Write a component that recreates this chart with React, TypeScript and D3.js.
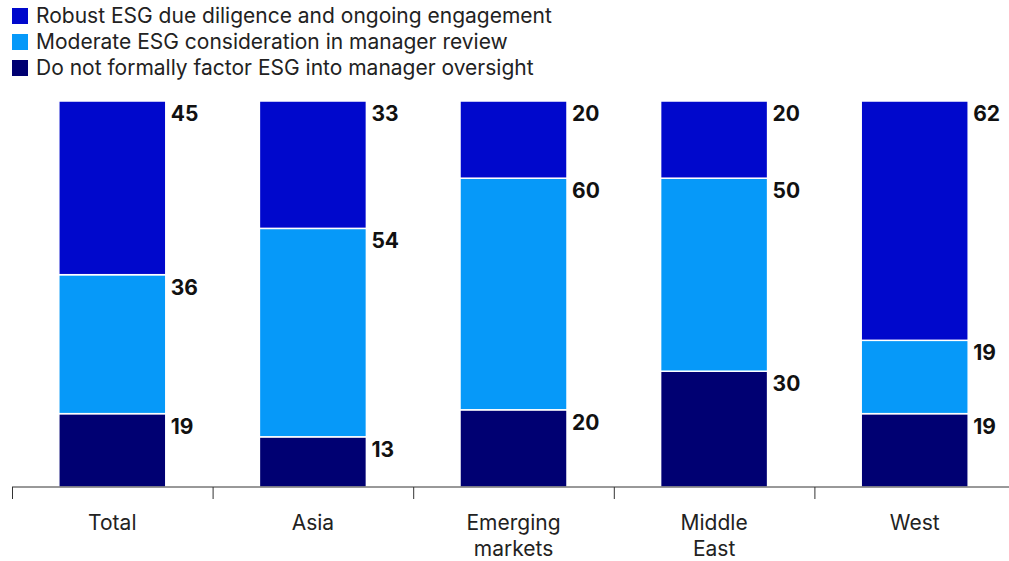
import React from "react";
import * as d3 from "d3";

const categories = ["Total", "Asia", "Emerging markets", "Middle East", "West"];
const categoryLines = [["Total"], ["Asia"], ["Emerging", "markets"], ["Middle", "East"], ["West"]];
const seriesNames = [
  "Robust ESG due diligence and ongoing engagement",
  "Moderate ESG consideration in manager review",
  "Do not formally factor ESG into manager oversight",
];
const robust = [45, 33, 20, 20, 62];
const moderate = [36, 54, 60, 50, 19];
const notFormal = [19, 13, 20, 30, 19];
const colors = ["#0008CC", "#0699F9", "#000072"];

const W = 1009;
const H = 561;
const M = { left: 12, right: -6, top: 101, bottom: 74 };

export default function App() {
  const x = d3.scaleBand<string>().domain(categories).range([M.left, W - M.right]).paddingInner(0).paddingOuter(0);
  const y = d3.scaleLinear().domain([0, 100]).range([H - M.bottom, M.top]);
  const bw = 107;
  const rows = categories.map((c, i) => ({ c, vals: [notFormal[i], moderate[i], robust[i]] }));
  const stackColors = [colors[2], colors[1], colors[0]];
  const font = "Inter, 'Noto Sans', sans-serif";
  return (
    <svg width={W} height={H} style={{ position: "absolute", left: 0, top: 0, background: "#fff" }} fontFamily={font}>
      {seriesNames.map((s, i) => (
        <g key={s} transform={`translate(12, ${8 + i * 26})`}>
          <rect width={16} height={16} fill={colors[i]} />
          <text x={24} y={15} fontSize={21} fill="#222">{s}</text>
        </g>
      ))}
      {rows.map((r, i) => {
        const cx = (x(r.c) as number) + x.bandwidth() / 2;
        let acc = 0;
        return (
          <g key={r.c}>
            {r.vals.map((v, j) => {
              const y0 = y(acc);
              const y1 = y(acc + v);
              acc += v;
              return (
                <g key={j}>
                  <rect x={cx - bw / 2} y={y1} width={bw} height={y0 - y1} fill={stackColors[j]} stroke="#fff" strokeWidth={1.5} />
                  <text x={cx + bw / 2 + 5} y={y1 + 20} fontSize={21} fontWeight={700} fill="#111">{v}</text>
                </g>
              );
            })}
          </g>
        );
      })}
      <line x1={M.left} x2={W} y1={y(0)} y2={y(0)} stroke="#333" strokeWidth={1} />
      {categories.map((c) => (
        <line key={c} x1={(x(c) as number) + 0.5} x2={(x(c) as number) + 0.5} y1={y(0)} y2={y(0) + 12} stroke="#333" />
      ))}
      {categories.map((c, i) => {
        const cx = (x(c) as number) + x.bandwidth() / 2;
        return (
          <text key={c} x={cx} y={530} textAnchor="middle" fontSize={21} fill="#222">
            {categoryLines[i].map((l, k) => (
              <tspan key={k} x={cx} dy={k === 0 ? 0 : 26}>{l}</tspan>
            ))}
          </text>
        );
      })}
    </svg>
  );
}
